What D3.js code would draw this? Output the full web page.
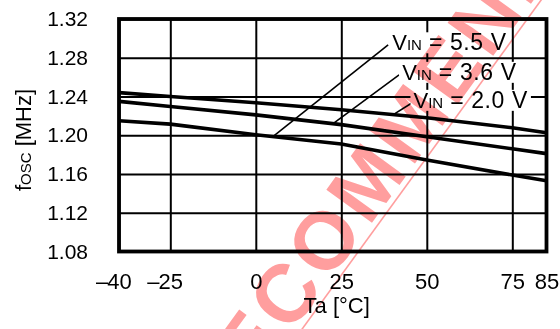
<!DOCTYPE html>
<html>
<head>
<meta charset="utf-8">
<script src="https://cdn.jsdelivr.net/npm/d3@7"></script>
<style>
    body { margin: 0; background: #fff; }
    svg { display: block; font-family: "Liberation Sans", Arial, sans-serif; }
</style>
</head>
<body>
<div id="chart"></div>
<script>
// valores
const temps = [-40, -25, 0, 25, 50, 75, 85];
const fosc55 = [1.215, 1.2115, 1.2005, 1.191, 1.1745, 1.159, 1.153];
const fosc36 = [1.235, 1.2297, 1.221, 1.211, 1.1985, 1.186, 1.181];
const fosc20 = [1.244, 1.240, 1.2335, 1.2263, 1.218, 1.2077, 1.2025];
const series = [fosc55, fosc36, fosc20];
const vinLabels = ['5.5', '3.6', '2.0'];

const yTicks = [1.08, 1.12, 1.16, 1.20, 1.24, 1.28, 1.32];
const xTicks = [-40, -25, 0, 25, 50, 75, 85];

// anotações (em unidades dos dados)
const leaderFromT = [5, 22.6, 40.2];
const leaderToT = [38.7, 41.9, 45.5];
const leaderToF = [1.2934, 1.2624, 1.2330];
const labelT = [39.9, 42.8, 46.1];
const labelF = [1.2877, 1.2572, 1.2283];

const width = 560, height = 329;
const margin = { top: 19, right: 13.5, bottom: 77.5, left: 119 };

const svg = d3.select('#chart')
    .append('svg')
    .attr('width', width)
    .attr('height', height);

const x = d3.scaleLinear().domain([-40, 85]).range([margin.left, width - margin.right]);
const y = d3.scaleLinear().domain([1.08, 1.32]).range([height - margin.bottom, margin.top]);
const plotW = x.range()[1] - x.range()[0];
const plotH = y.range()[0] - y.range()[1];

// eixo y + grade horizontal
svg.append('g')
    .attr('transform', `translate(${margin.left},0)`)
    .call(d3.axisLeft(y).tickValues(yTicks).tickFormat(d3.format('.2f')).tickSize(-plotW).tickPadding(31))
    .call(g => g.select('.domain').remove())
    .call(g => g.attr('font-family', null).attr('font-size', 21))
    .call(g => g.selectAll('line').attr('stroke', '#000').attr('stroke-width', 2))
    .call(g => g.selectAll('text').attr('fill', '#000'));

// eixo x + grade vertical
const xAxis = svg.append('g')
    .attr('transform', `translate(0,${y.range()[0]})`)
    .call(d3.axisBottom(x).tickValues(xTicks).tickFormat(d => Math.abs(d)).tickSize(-plotH).tickPadding(21.5))
    .call(g => g.select('.domain').remove())
    .call(g => g.attr('font-family', null).attr('font-size', 22))
    .call(g => g.selectAll('line').attr('stroke', '#000').attr('stroke-width', 2))
    .call(g => g.selectAll('text').attr('fill', '#000'));

// sinal de menos fora do centro dos números
xAxis.selectAll('.tick').filter(d => d < 0).each(function() {
    const t = d3.select(this).select('text');
    const bb = t.node().getBBox();
    d3.select(this).append('text')
        .attr('fill', '#000')
        .attr('text-anchor', 'end')
        .attr('x', bb.x + 1)
        .attr('y', t.attr('y'))
        .attr('dy', t.attr('dy'))
        .text('\u2013');
});

// caixas brancas dos rótulos (cortam a grade)
const labels = svg.append('g').attr('class', 'labels');
vinLabels.forEach((v, i) => {
    const lg = labels.append('g')
        .attr('transform', `translate(${x(labelT[i])},${y(labelF[i])})`);
    const rect = lg.append('rect').attr('fill', '#fff');
    const t = lg.append('text').attr('font-size', 22).attr('fill', '#000');
    t.append('tspan').text('V');
    t.append('tspan').attr('font-size', 15).text('IN');
    t.append('tspan').attr('font-size', 23).attr('letter-spacing', 0.6).text(` = ${v} V`);
    const bb = t.node().getBBox();
    rect.attr('x', bb.x - 3).attr('y', -18).attr('width', bb.width + 6).attr('height', 21);
});

// curvas
const line = d3.line()
    .x((d, i) => x(temps[i]))
    .y(d => y(d));

svg.append('g')
    .selectAll('path')
    .data(series)
    .enter()
    .append('path')
    .attr('d', line)
    .attr('fill', 'none')
    .attr('stroke', '#000')
    .attr('stroke-width', 3.6)
    .attr('stroke-linejoin', 'round');

// linhas de chamada
function valueAt(s, t) {
    return d3.scaleLinear().domain(temps).range(s)(t);
}
svg.append('g')
    .selectAll('line')
    .data(vinLabels)
    .enter()
    .append('line')
    .attr('x1', (d, i) => x(leaderFromT[i]))
    .attr('y1', (d, i) => y(valueAt(series[i], leaderFromT[i])))
    .attr('x2', (d, i) => x(leaderToT[i]))
    .attr('y2', (d, i) => y(leaderToF[i]))
    .attr('stroke', '#000')
    .attr('stroke-width', 1.6);

labels.raise();

// moldura
svg.append('rect')
    .attr('x', margin.left)
    .attr('y', margin.top)
    .attr('width', plotW)
    .attr('height', plotH)
    .attr('fill', 'none')
    .attr('stroke', '#000')
    .attr('stroke-width', 3.8);

// títulos
svg.append('text')
    .attr('x', (x.range()[0] + x.range()[1]) / 2 + 4)
    .attr('y', 313)
    .attr('text-anchor', 'middle')
    .attr('font-size', 22)
    .text('Ta [\u00B0C]');

const yt = svg.append('text')
    .attr('transform', 'translate(31,140) rotate(-90)')
    .attr('text-anchor', 'middle')
    .attr('font-size', 22);
yt.append('tspan').text('f');
yt.append('tspan').attr('font-size', 15).text('OSC');
yt.append('tspan').text(' [MHz]');

// carimbo em vermelho
const wm = svg.append('g')
    .style('mix-blend-mode', 'multiply')
    .attr('transform', 'translate(325,238) rotate(-54)');
const wt = wm.append('text')
    .attr('font-size', 82)
    .attr('font-weight', 'bold')
    .attr('letter-spacing', 5)
    .attr('fill', '#ff9e9e')
    .text('NOT RECOMMENDED');
const ext = wt.node().getExtentOfChar(7);
wt.attr('x', -(ext.x + ext.width / 2)).attr('y', 29);
wm.append('line')
    .attr('x1', -700).attr('x2', 700)
    .attr('y1', 35).attr('y2', 35)
    .attr('stroke', '#ff9e9e')
    .attr('stroke-width', 1.6);
</script>
</body>
</html>
